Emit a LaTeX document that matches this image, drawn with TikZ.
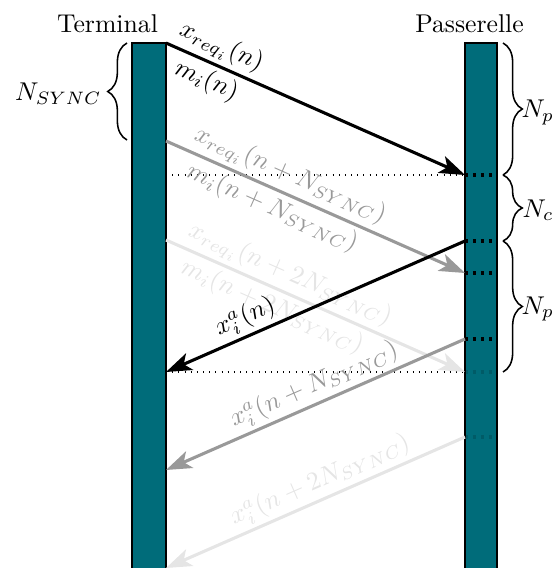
\documentclass[tikz,border=0pt]{standalone}
\usetikzlibrary{arrows.meta,decorations.pathreplacing}
\definecolor{barteal}{RGB}{0,108,122}
\begin{document}
\begin{tikzpicture}[x=0.389pt,y=-0.389pt,
  bar/.style={draw=black, line width=0.5pt, fill=barteal},
  msg/.style={line width=1.2pt, -{Stealth[length=10pt,width=7pt,inset=2.5pt]}},
  slotmark/.style={line width=1.5pt, dash pattern=on 1.3pt off 1.8pt},
  syncline/.style={dotted, line width=0.4pt},
  brc/.style={decorate, decoration={brace, amplitude=7.5pt}, line width=0.6pt},
  fadeA/.style={color=black!40},
  fadeB/.style={color=black!10},
  lbl/.style={sloped, inner sep=1.5pt}
]
\useasboundingbox (0,0) rectangle (553,568);

% bars
\draw[bar] (132,43) rectangle (166,600);
\draw[bar] (465,43) rectangle (497,600);

% titles
\node[anchor=base] (term) at (107.5,33) {Terminal};
\node[anchor=base] (pass) at (469.5,33) {Passerelle};

% coordinates
\coordinate (T0) at (166,43);
\coordinate (T1) at (166,141);
\coordinate (T2) at (166,240);
\coordinate (R0) at (166,372);
\coordinate (R1) at (166,470);
\coordinate (R2) at (166,568);
\coordinate (A0) at (465,175);
\coordinate (A1) at (465,273);
\coordinate (A2) at (465,372);
\coordinate (D0) at (465,241);
\coordinate (D1) at (465,339);
\coordinate (D2) at (465,437);
\coordinate (B0) at (497,175);
\coordinate (B1) at (497,273);
\coordinate (B2) at (497,372);
\coordinate (C0) at (497,241);
\coordinate (C1) at (497,339);
\coordinate (C2) at (497,437);

% sync dotted lines
\draw[syncline] (166,175) -- (A0);
\draw[syncline] (166,372) -- (A2);

% slot marks
\draw[slotmark] (A0) -- (B0);
\draw[slotmark] (D0) -- (C0);
\draw[slotmark] (A1) -- (B1);
\draw[slotmark] (D1) -- (C1);
\draw[slotmark, opacity=0.15] (A2) -- (B2);
\draw[slotmark, opacity=0.15] (D2) -- (C2);

% braces
\draw[brc] (127,140) -- (127,43);
\node[anchor=base east, inner sep=0pt] (nsync) at (102,101) {$N_{SYNC}$};
\draw[brc] (503,43) -- (503,175);
\node[anchor=base west, inner sep=0pt] (np1) at (521,118) {$N_p$};
\draw[brc] (503,175) -- (503,241);
\node[anchor=base west, inner sep=0pt] (nc) at (522,217) {$N_c$};
\draw[brc] (503,241) -- (503,372);
\node[anchor=base west, inner sep=0pt] (np2) at (521,314) {$N_p$};

% requests
\draw[msg] (T0) -- node[lbl, above, pos=0.16] (q0a) {$x_{req_i}(n)$}
                   node[lbl, below, pos=0.16] (q0b) {$m_i(n)$} (A0);
\draw[msg, fadeA] (T1) -- node[lbl, above, pos=0.39] (q1a) {$x_{req_i}(n+N_{SYNC})$}
                   node[lbl, below, pos=0.38] (q1b) {$m_i(n+N_{SYNC})$} (A1);
\draw[msg, fadeB] (T2) -- node[lbl, above, pos=0.39] (q2a) {$x_{req_i}(n+2N_{SYNC})$}
                   node[lbl, below, pos=0.38] (q2b) {$m_i(n+2N_{SYNC})$} (A2);

% replies
\draw[msg] (D0) -- node[lbl, above, pos=0.71] (r0) {$x_i^a(n)$} (R0);
\draw[msg, fadeA] (D1) -- node[lbl, above, pos=0.48] (r1) {$x_i^a(n+N_{SYNC})$} (R1);
\draw[msg, fadeB] (D2) -- node[lbl, above, pos=0.46] (r2) {$x_i^a(n+2N_{SYNC})$} (R2);
\end{tikzpicture}
\end{document}
